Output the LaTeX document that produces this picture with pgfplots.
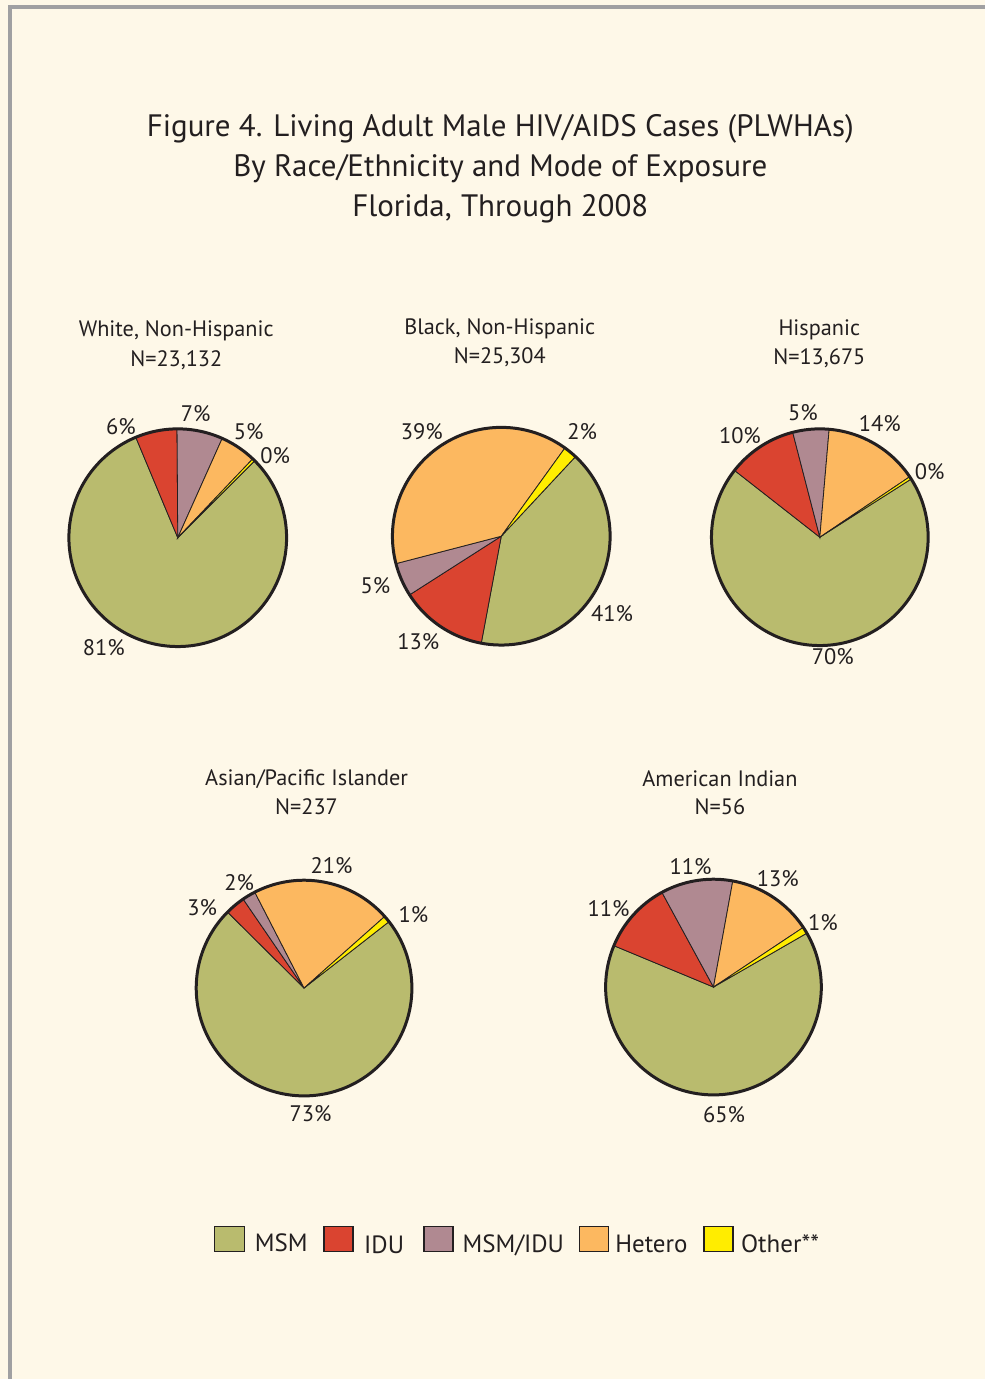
\documentclass[border=0pt]{standalone}
\usepackage{pgfplots}
\pgfplotsset{compat=1.18}
\usepackage{fontspec}
\setmainfont{PT Sans}
\definecolor{bg}{HTML}{FEF8E8}
\definecolor{frame}{HTML}{A0A0A2}
\definecolor{txt}{HTML}{231F20}
\definecolor{msm}{HTML}{B9BB6E}
\definecolor{idu}{HTML}{DA4430}
\definecolor{mix}{HTML}{B08991}
\definecolor{het}{HTML}{FCB860}
\definecolor{oth}{HTML}{FFED00}

% start angle (boundary Other|MSM), then value/colour pairs, clockwise
\newcommand{\pieslices}[2]{%
  \def\pcur{#1}%
  \foreach \v/\c in {#2} {%
    \pgfmathsetmacro\pe{\pcur-\v*3.6}%
    \edef\doplot{\noexpand\addplot[draw=txt, line width=0.8pt, fill=\c, domain=\pe:\pcur, samples=90] ({cos(x)},{sin(x)}) -- (axis cs:0,0) -- cycle;}%
    \doplot
    \global\let\pcur\pe
  }%
  \addplot[draw=txt, line width=3pt, domain=0:360, samples=200] ({cos(x)},{sin(x)});
}
\pgfplotsset{pie/.style={anchor=center, width=#1, height=#1, scale only axis, hide axis,
  xmin=-1, xmax=1, ymin=-1, ymax=1, clip=false}}

\begin{document}
\begin{tikzpicture}[x=1pt,y=1pt]
\fill[bg] (0,0) rectangle (986,1381);
\draw[frame, line width=4pt] (10,0) -- (10,1374) -- (986,1374);

\begin{scope}[every node/.style={text=txt, inner sep=0pt}]
% title
\node[anchor=base, font=\fontsize{31}{37}\selectfont] at (501,1381-137) {Figure 4.\hspace{0.35em}Living Adult Male HIV/AIDS Cases (PLWHAs)};
\node[anchor=base, font=\fontsize{31}{37}\selectfont] at (501,1381-177) {By Race/Ethnicity and Mode of Exposure};
\node[anchor=base, font=\fontsize{31}{37}\selectfont] at (501,1381-217) {Florida,\hspace{0.3em}Through 2008};

% pie titles
\begin{scope}[every node/.append style={anchor=base, font=\fontsize{22.3}{26}\selectfont}]
\node at (176.5,1381-337) {White, Non-Hispanic};
\node at (176.5,1381-367) {N=23,132};
\node at (500.5,1381-335.5) {Black, Non-Hispanic};
\node at (500.5,1381-364.5) {N=25,304};
\node at (820.5,1381-336) {Hispanic};
\node at (820.5,1381-365) {N=13,675};
\node at (307,1381-787) {Asian/Pacific Islander};
\node at (307,1381-815.5) {N=237};
\node at (721,1381-787.5) {American Indian};
\node at (721,1381-816) {N=56};
\end{scope}

% percentage labels
\begin{scope}[every node/.append style={anchor=center, font=\fontsize{22.5}{26}\selectfont}]
\node at (121,1381-427) {6\%};
\node at (196,1381-414) {7\%};
\node at (249,1381-432) {5\%};
\node at (275.5,1381-456) {0\%};
\node at (104,1381-649) {81\%};
\node at (422.5,1381-432) {39\%};
\node at (583,1381-432) {2\%};
\node at (376,1381-586) {5\%};
\node at (419,1381-643) {13\%};
\node at (613,1381-615) {41\%};
\node at (741,1381-436) {10\%};
\node at (804,1381-413) {5\%};
\node at (881,1381-424) {14\%};
\node at (931,1381-472) {0\%};
\node at (834,1381-658) {70\%};
\node at (332,1381-867) {21\%};
\node at (239.5,1381-884) {2\%};
\node at (202.5,1381-909) {3\%};
\node at (414,1381-916) {1\%};
\node at (311,1381-1115) {73\%};
\node at (691.5,1381-868) {11\%};
\node at (609.5,1381-910) {11\%};
\node at (779,1381-880) {13\%};
\node at (824,1381-924) {1\%};
\node at (725,1381-1116) {65\%};
\end{scope}

% legend
\begin{scope}[every node/.append style={anchor=base west, font=\fontsize{25}{30}\selectfont}]
\filldraw[fill=msm, draw=txt, line width=1.3pt] (215,1381-1228.5) rectangle (244.5,1381-1253);
\node at (255,1381-1253) {MSM};
\filldraw[fill=idu, draw=txt, line width=1.3pt] (324.5,1381-1228.5) rectangle (353.5,1381-1253);
\node at (364.5,1381-1255) {IDU};
\filldraw[fill=mix, draw=txt, line width=1.3pt] (424.5,1381-1228.5) rectangle (453.5,1381-1253);
\node at (463,1381-1254) {MSM/IDU};
\filldraw[fill=het, draw=txt, line width=1.3pt] (580.5,1381-1228.5) rectangle (609.5,1381-1253);
\node at (616,1381-1254) {Hetero};
\filldraw[fill=oth, draw=txt, line width=1.3pt] (705,1381-1228.5) rectangle (734,1381-1253);
\node at (742,1381-1254) {Other**};
\end{scope}
\end{scope}

% White, Non-Hispanic
\begin{axis}[pie=218pt, at={(178pt,842.5pt)}]
\pieslices{45}{81.2/msm, 6.2/idu, 6.8/mix, 5.4/het, 0.4/oth}
\end{axis}
% Black, Non-Hispanic
\begin{axis}[pie=218pt, at={(502pt,844pt)}]
\pieslices{47}{41/msm, 13/idu, 5/mix, 39/het, 2/oth}
\end{axis}
% Hispanic
\begin{axis}[pie=217pt, at={(821pt,843pt)}]
\pieslices{32.5}{69.6/msm, 10.4/idu, 5.4/mix, 14.2/het, 0.4/oth}
\end{axis}
% Asian/Pacific Islander
\begin{axis}[pie=216pt, at={(304.5pt,391.5pt)}]
\pieslices{38}{73/msm, 3/idu, 2/mix, 21/het, 1/oth}
\end{axis}
% American Indian
\begin{axis}[pie=216pt, at={(714.5pt,392.5pt)}]
\pieslices{30}{64.6/msm, 10.8/idu, 10.8/mix, 12.8/het, 1.0/oth}
\end{axis}
\end{tikzpicture}
\end{document}
